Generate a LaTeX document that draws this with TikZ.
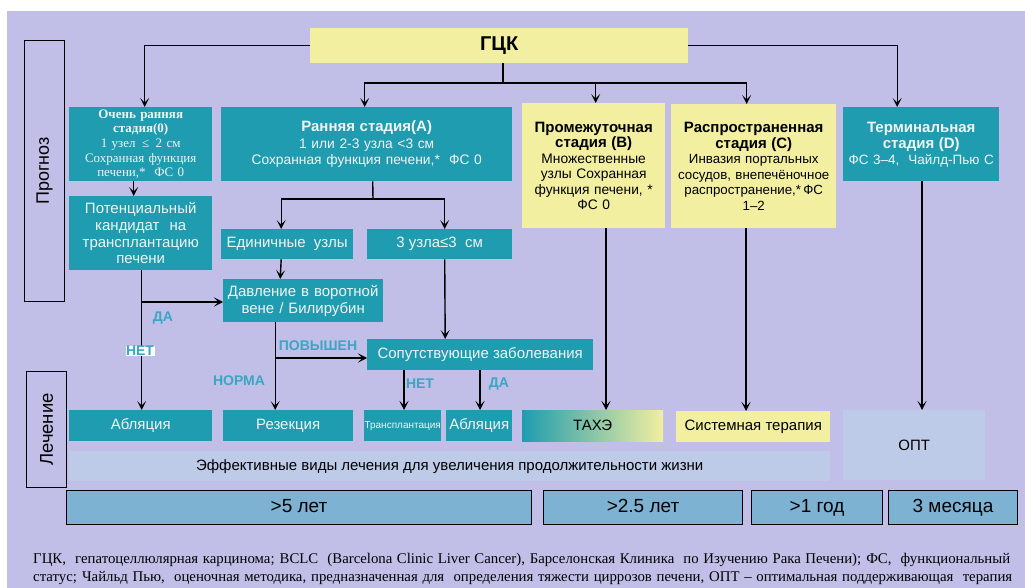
\documentclass[tikz,border=0pt]{standalone}
\usepackage{fontspec}
\setmainfont{Liberation Serif}
\setsansfont{Liberation Sans}
\usetikzlibrary{arrows.meta,calc}
\definecolor{bgl}{HTML}{C1BFE8}
\definecolor{tealb}{HTML}{1F9CAF}
\definecolor{yelb}{HTML}{F2EFA0}
\definecolor{lightb}{HTML}{BDCAE8}
\definecolor{yearb}{HTML}{7EB2D3}
\definecolor{lbl}{HTML}{3AA6C4}
\definecolor{wtxt}{HTML}{F2F4F4}
\tikzset{
  box/.style={draw=none, anchor=north west, inner sep=1pt, align=center, font=\sffamily\fontsize{12}{15}\selectfont},
  tbox/.style={box, fill=tealb, text=wtxt},
  ybox/.style={box, fill=yelb, text=black},
  lbox/.style={box, fill=lightb, text=black},
  big/.style={font=\sffamily\fontsize{15}{17.5}\selectfont},
  yrbox/.style={draw=black, line width=1pt, fill=yearb, anchor=north west, font=\sffamily\fontsize{19}{21}\selectfont, inner sep=0pt, text height=13.5pt, text depth=4pt},
  side/.style={draw=black, line width=1pt, fill=none, anchor=north west, inner sep=0pt},
  ln/.style={draw=black, line width=1.4pt},
  arr/.style={ln, -{Stealth[length=9pt,width=9pt,inset=4.5pt]}},
  lab/.style={text=lbl, font=\sffamily\bfseries\fontsize{14}{16}\selectfont, inner sep=1pt},
  foot/.style={anchor=base west, inner sep=0, font=\rmfamily\fontsize{14.8}{16}\selectfont},
}
\begin{document}
\begin{tikzpicture}[x=1pt,y=-1pt]
\useasboundingbox (0,0) rectangle (1025,588);
\fill[white] (0,0) rectangle (1025,588);
\fill[bgl] (7,11) rectangle (1025,588);

% side boxes
\node[side, minimum width=40, minimum height=261] (prog) at (24,40) {};
\node[rotate=90, font=\sffamily\fontsize{18}{20}\selectfont] (progt) at (prog.center) {Прогноз};
\node[side, minimum width=40, minimum height=116] (lech) at (26,371) {};
\node[rotate=90, font=\sffamily\fontsize{18.5}{20}\selectfont] (lecht) at (lech.center) {Лечение};

% top
\node[ybox, minimum width=378, minimum height=35, font=\sffamily\bfseries\fontsize{20}{22}\selectfont] (gcc) at (310,28) {ГЦК};

% stages
\node[tbox, minimum width=143, minimum height=74, text width=141, font=\rmfamily\fontsize{13}{14.6}\selectfont] (s0) at (69,107) {\textbf{Очень ранняя\\стадия(0)}\\1 узел \,≤\, 2 см\\Сохранная функция\\печени,*\ \ ФС 0};
\node[tbox, minimum width=291, minimum height=74, text width=289, font=\sffamily\fontsize{13.8}{16.5}\selectfont] (sA) at (221,107) {{\bfseries\fontsize{15}{17}\selectfont Ранняя стадия(А)}\\1 или 2-3 узла <3 см\\Сохранная функция печени,*\ \ ФС 0};
\node[ybox, minimum width=143, minimum height=125, text width=141, font=\sffamily\fontsize{13.8}{15.5}\selectfont] (sB) at (522,103) {{\bfseries\fontsize{15}{16}\selectfont Промежуточная\\стадия (B)}\\Множественные\\узлы Сохранная\\функция печени, *\\ФС 0};
\node[ybox, minimum width=165, minimum height=124, text width=163, font=\sffamily\fontsize{13.3}{15.5}\selectfont] (sC) at (671,104) {{\bfseries\fontsize{15}{16}\selectfont Распространенная\\стадия (C)}\\Инвазия портальных\\сосудов, внепечёночное\\распространение,*\,ФС\\1–2};
\node[tbox, minimum width=156, minimum height=74, text width=154, font=\sffamily\fontsize{13.5}{16}\selectfont] (sD) at (843,107) {{\bfseries\fontsize{15}{16.5}\selectfont Терминальная\\стадия (D)}\\ФС 3–4,\ \ Чайлд-Пью С};

% second level
\node[tbox, minimum width=143, minimum height=74, text width=141, font=\sffamily\fontsize{15}{16.8}\selectfont] (pot) at (69,196) {Потенциальный\\кандидат\ \ на\\трансплантацию\\печени};
\node[tbox, big, minimum width=132, minimum height=30] (ed) at (221,229) {Единичные\ \ узлы};
\node[tbox, big, minimum width=145, minimum height=30] (tri) at (367,229) {3 узла≤3\ \ см};
\node[tbox, minimum width=160, minimum height=43, text width=158, font=\sffamily\fontsize{15}{16.8}\selectfont] (dav) at (223,279) {Давление в воротной\\вене / Билирубин};
\node[tbox, big, minimum width=226, minimum height=31] (sop) at (367,339) {Сопутствующие заболевания};

% treatments
\node[tbox, big, minimum width=143, minimum height=31] (abl1) at (69,410) {Абляция};
\node[tbox, big, minimum width=130, minimum height=31] (rez) at (223,410) {Резекция};
\node[tbox, minimum width=77, minimum height=31, inner sep=0pt, font=\sffamily\fontsize{10}{11}\selectfont] (tra) at (364,410) {Трансплантация};
\node[box, big, minimum width=141, minimum height=31, shading=axis, left color=tealb, middle color=tealb!25!white, right color=yelb, shading angle=90] (tace) at (522,410) {ТАХЭ};
\node[tbox, big, minimum width=66, minimum height=31] (abl2) at (446,410) {Абляция};
\node[ybox, big, minimum width=154, minimum height=31] (sys) at (676,411) {Системная терапия};
\node[lbox, big, minimum width=142, minimum height=70] (opt) at (843,410) {ОПТ};
\node[lbox, big, minimum width=761, minimum height=30] (eff) at (69,451) {Эффективные виды лечения для увеличения продолжительности жизни};

% years
\node[yrbox, minimum width=465, minimum height=34] (y5) at (66,490) {>5 лет};
\node[yrbox, minimum width=199, minimum height=34] (y25) at (543,490) {>2.5 лет};
\node[yrbox, minimum width=131, minimum height=34] (y1) at (751,490) {>1 год};
\node[yrbox, minimum width=129, minimum height=34] (y3) at (888,490) {3 месяца};

% connectors
\coordinate (jt) at (503,83);
\draw[ln] (gcc.south -| jt) -- (jt);
\draw[arr] (gcc.west) -| ([xshift=4]s0.north);
\draw[arr] (jt) -| ([xshift=-2]sA.north);
\draw[arr] (jt) -| ([xshift=2]sB.north);
\draw[arr] (jt) -| ([xshift=-7]sC.north);
\draw[arr] (gcc.east) -| ([xshift=-24]sD.north);

\draw[arr] ([xshift=-7]s0.south) -- ([xshift=-7]pot.north);

\coordinate (ja) at (373,199);
\draw[ln] ([xshift=6]sA.south) -- (ja);
\draw[arr] (ja) -| ([xshift=-6]ed.north);
\draw[arr] (ja) -| ([xshift=5]tri.north);
\draw[arr] ([xshift=-6]ed.south) -- ([xshift=-23]dav.north);
\draw[arr] ([xshift=5]tri.south) -- ([xshift=-35]sop.north);

\coordinate (jp) at (141,302);
\draw[arr] ([xshift=1]pot.south) -- ([xshift=1]abl1.north);
\draw[arr] (jp) -- (jp -| dav.west);

\coordinate (jd) at (275,358);
\draw[arr] ([xshift=-28]dav.south) -- ([xshift=-13]rez.north);
\draw[arr] (jd) -- (jd -| sop.west);

\draw[arr] (sop.south -| 404,0) -- (tra.north -| 404,0);
\draw[arr] (sop.south -| 480,0) -- (abl2.north -| 480,0);

\draw[arr] (sB.south -| 606,0) -- (tace.north -| 606,0);
\draw[arr] (sC.south -| 746,0) -- (sys.north -| 746,0);
\draw[arr] (sD.south -| 922,0) -- (opt.north -| 922,0);

% labels
\node[lab] (lda1) at (163,318) {ДА};
\node[lab, fill=white, inner sep=0.5pt] (lnet1) at (140,351) {НЕТ};
\node[lab] (lpov) at (318,346) {ПОВЫШЕН};
\node[lab] (lnor) at (239,381) {НОРМА};
\node[lab] (lnet2) at (420,384) {НЕТ};
\node[lab] (lda2) at (499,384) {ДА};

% footnote
\node[foot] (fn1) at (33,563) {\makebox[977pt][s]{ГЦК,\ \ гепатоцеллюлярная карцинома; BCLC\ \ (Barcelona Clinic Liver Cancer), Барселонская Клиника\ \ по Изучению Рака Печени); ФС,\ \ функциональный}};
\node[foot] (fn2) at (33,581) {\makebox[979pt][s]{статус; Чайльд Пью,\ \ оценочная методика, предназначенная для\ \ определения тяжести циррозов печени, ОПТ – оптимальная поддерживающая\ \ терапия}};
\end{tikzpicture}
\end{document}
